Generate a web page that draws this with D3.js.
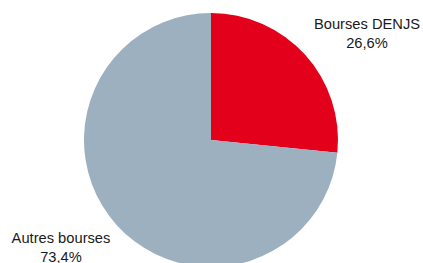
<!DOCTYPE html>
<html lang="fr">
<head>
<meta charset="utf-8"/>
<script src="https://d3js.org/d3.v7.min.js"></script>
<style>
  body { margin: 0; background: #fff; }
  svg text { font-family: "Liberation Sans", Arial, sans-serif; font-size: 14.7px; fill: #1a1a1a; }
</style>
</head>
<body>
<svg id="pie"></svg>
<script>
  const width = 423;
  const height = 263;

  const labels = ["Bourses DENJS", "Autres bourses"];
  const values = [26.6, 73.4];
  const colors = ["#e2001a", "#9db0c0"];

  const cx = 211, cy = 140, radius = 127;

  const svg = d3.select("#pie")
    .attr("width", width)
    .attr("height", height);

  const pie = d3.pie().sort(null).value(d => d.value);
  const arc = d3.arc().innerRadius(0).outerRadius(radius);

  const data = labels.map((l, i) => ({label: l, value: values[i], color: colors[i]}));

  svg.append("g")
    .attr("transform", "translate(" + cx + "," + cy + ")")
    .selectAll("path")
    .data(pie(data))
    .join("path")
      .attr("d", arc)
      .attr("fill", d => d.data.color);

  // label positions (centre of text block)
  const labelPos = [[367, 29], [61, 243]];
  const fmt = v => v.toFixed(1).replace(".", ",") + "%";

  data.forEach((d, i) => {
    const t = svg.append("text")
      .attr("text-anchor", "middle")
      .attr("x", labelPos[i][0])
      .attr("y", labelPos[i][1]);
    t.append("tspan").attr("x", labelPos[i][0]).text(d.label);
    t.append("tspan").attr("x", labelPos[i][0]).attr("dy", 18.5).text(fmt(d.value));
  });
</script>
</body>
</html>
